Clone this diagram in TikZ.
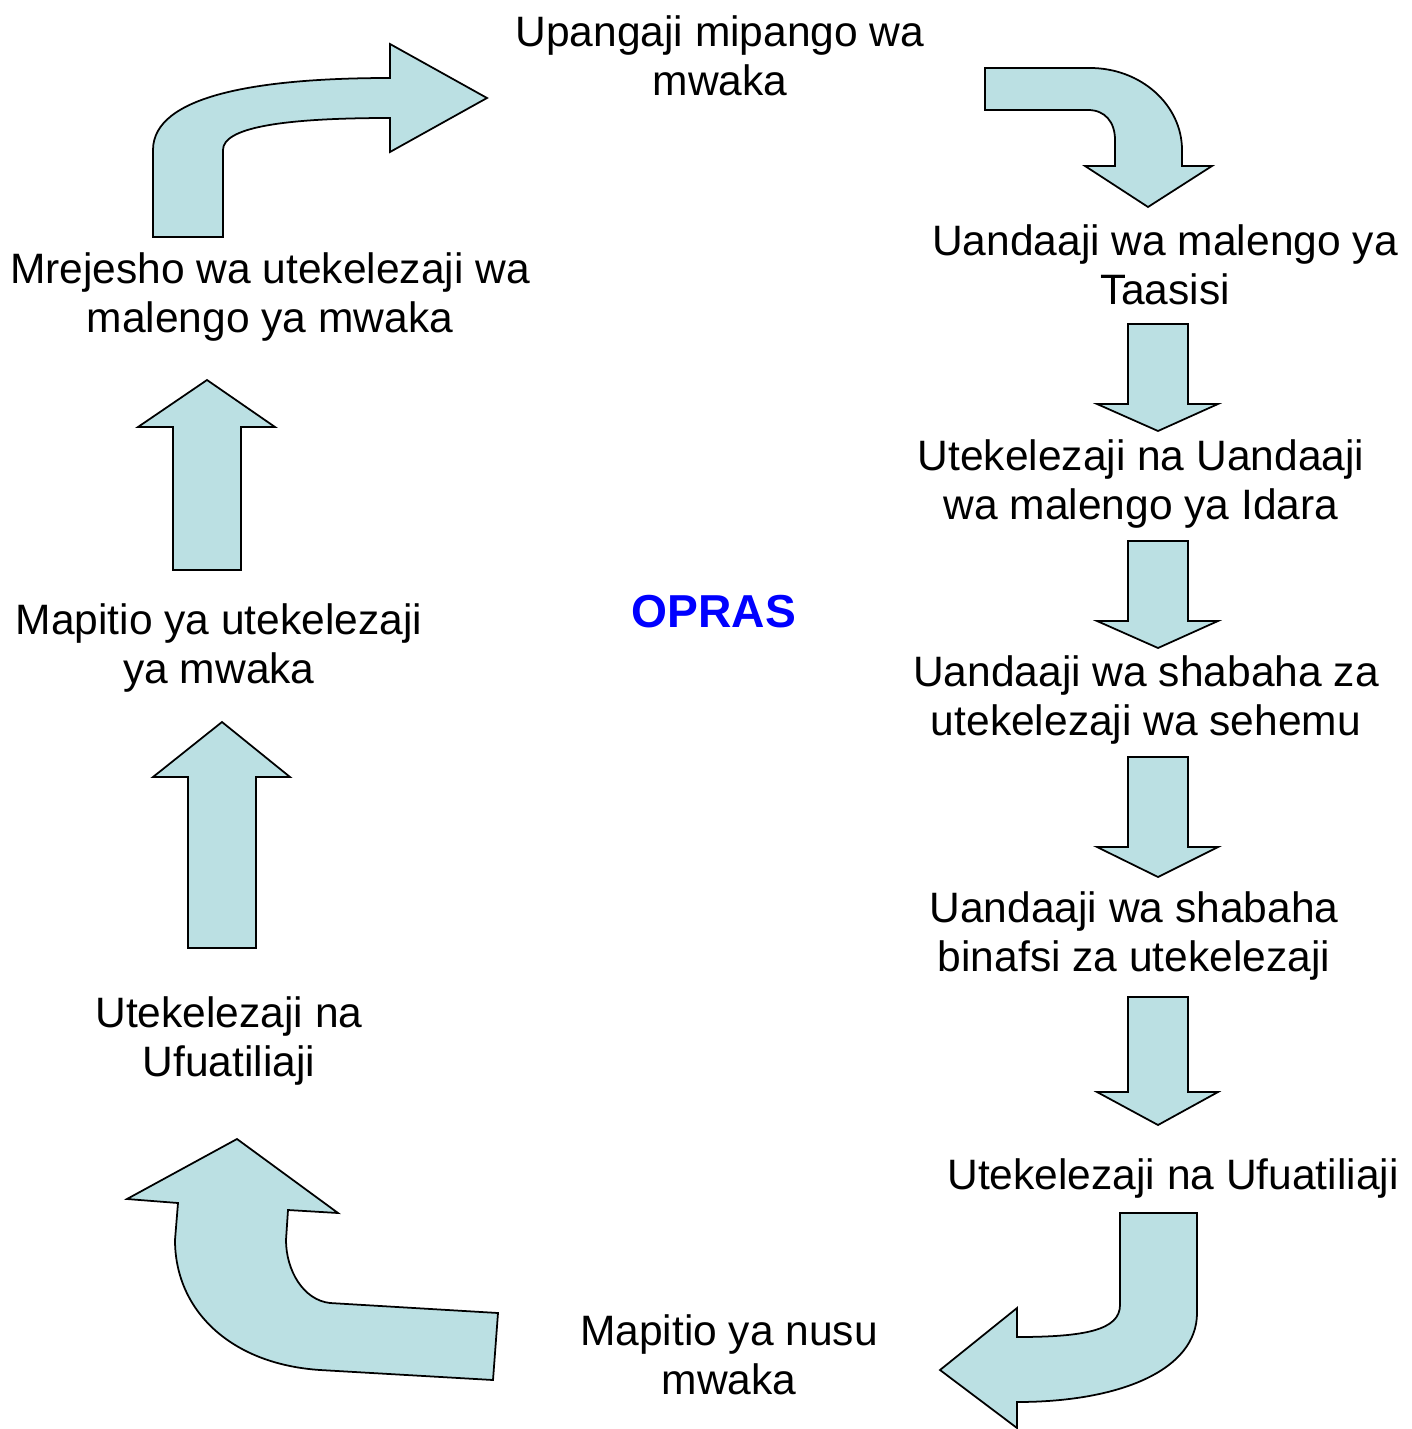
\documentclass[tikz,border=0pt]{standalone}
\usepackage{fontspec}
\setmainfont{Liberation Sans}
\usetikzlibrary{positioning}
\definecolor{arrowfill}{RGB}{187,224,227}
\tikzset{
  steptext/.style={align=center, inner sep=0pt, font=\fontsize{24.2}{27.8}\selectfont},
  blockarrow/.style={draw=black, line width=1pt, fill=arrowfill, line join=miter},
}

\begin{document}
\begin{tikzpicture}[x=0.02cm, y=-0.02cm]
\useasboundingbox (0,0) rectangle (1412,1429);
% steps of the cycle
\node[steptext] (upangaji) at (720,56) {Upangaji mipango wa\\mwaka};
\node[steptext] (taasisi) at (1165,265) {Uandaaji wa malengo ya\\Taasisi};
\node[steptext] (idara) at (1141,484) {Utekelezaji na Uandaaji\\wa malengo ya Idara};
\node[steptext] (sehemu) at (1146,700) {Uandaaji wa shabaha za\\utekelezaji wa sehemu};
\node[steptext] (binafsi) at (1134,936) {Uandaaji wa shabaha\\binafsi za utekelezaji};
\node[steptext] (ufuatiliaji) at (1173,1178) {Utekelezaji na Ufuatiliaji};
\node[steptext] (nusu) at (729,1355) {Mapitio ya nusu\\mwaka};
\node[steptext] (utekelezaji) at (229,1041) {Utekelezaji na\\Ufuatiliaji};
\node[steptext] (mapitio) at (219,648) {Mapitio ya utekelezaji\\ya mwaka};
\node[steptext] (mrejesho) at (270,297) {Mrejesho wa utekelezaji wa\\malengo ya mwaka};
\node[font=\fontsize{26.3}{30}\selectfont\bfseries, text=blue, inner sep=0pt] (opras) at (714,612) {OPRAS};

% bent arrows
\draw[blockarrow] (153,237) -- (153,150) .. controls (153,95) and (260,78) .. (390,78) -- (390,44) -- (487,98) -- (390,152) -- (390,118) .. controls (280,118) and (223,128) .. (223,150) -- (223,237) -- cycle;
\draw[blockarrow] (985,68) -- (1090,68) .. controls (1141,68) and (1182,105) .. (1182,150) -- (1182,166) -- (1212,166) -- (1148,207) -- (1085,166) -- (1115,166) -- (1115,140) .. controls (1115,122) and (1105,110) .. (1088,110) -- (985,110) -- cycle;
\draw[blockarrow] (1120,1213) -- (1197,1213) -- (1197,1313) .. controls (1197,1370) and (1120,1402) .. (1017,1402) -- (1017,1428) -- (940,1370) -- (1017,1308) -- (1017,1337) .. controls (1085,1337) and (1120,1330) .. (1120,1305) -- cycle;
\draw[blockarrow] (498,1313) -- (493,1380) -- (320,1370) .. controls (230,1364) and (175,1310) .. (175,1240) -- (178,1203) -- (127,1199) -- (237,1139) -- (338,1213) -- (288,1210) -- (286,1240) .. controls (286,1270) and (303,1300) .. (330,1303) -- cycle;

% straight arrows
\foreach \ytop/\ybase/\ytip in {324/404/431, 541/621/648, 757/847/877, 997/1092/1125}
  \draw[blockarrow] (1128,\ytop) -- (1188,\ytop) -- (1188,\ybase) -- (1218,\ybase) -- (1158,\ytip) -- (1097,\ybase) -- (1128,\ybase) -- cycle;
\foreach \xl/\xr/\hl/\hr/\xtip/\ybase/\ytip/\ybot in {173/241/138/275/207/427/380/570, 188/256/153/290/222/777/722/948}
  \draw[blockarrow] (\xl,\ybot) -- (\xl,\ybase) -- (\hl,\ybase) -- (\xtip,\ytip) -- (\hr,\ybase) -- (\xr,\ybase) -- (\xr,\ybot) -- cycle;
\end{tikzpicture}
\end{document}
